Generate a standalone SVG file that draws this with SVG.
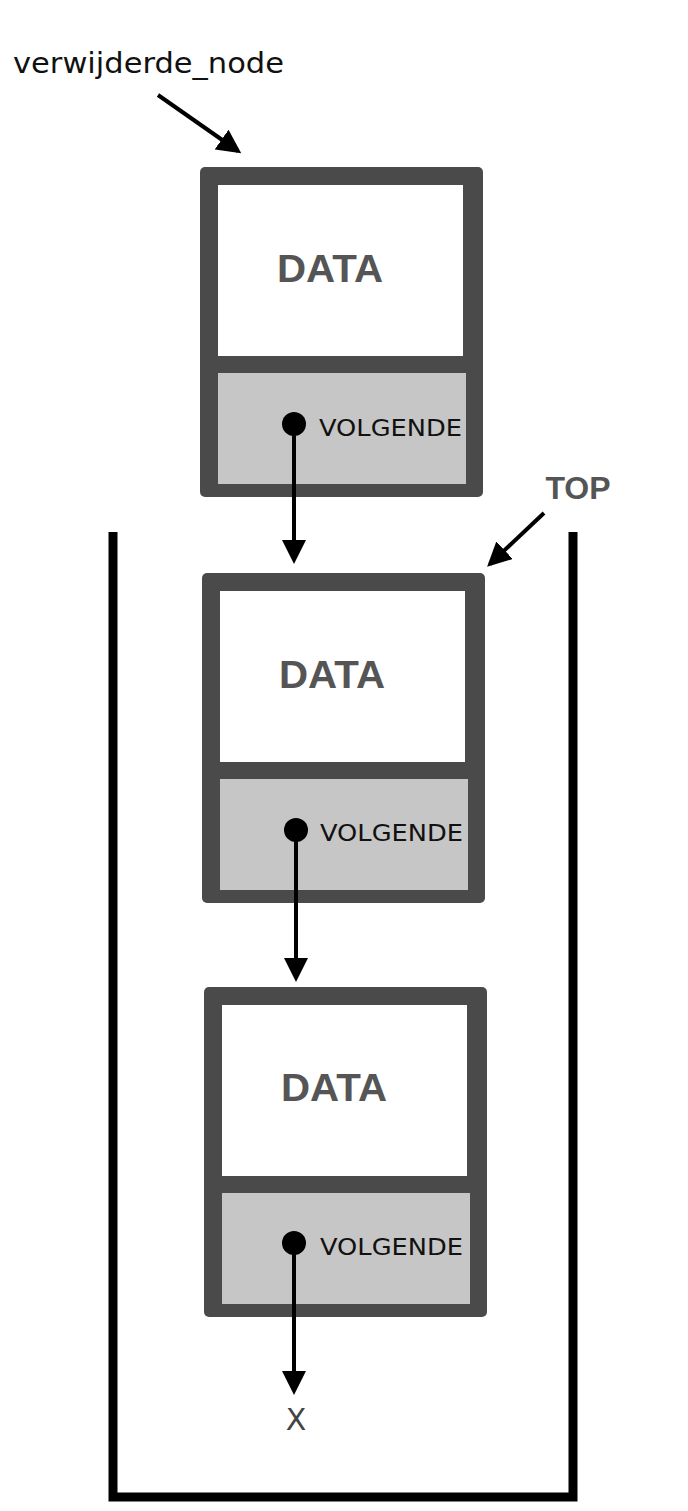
<svg xmlns="http://www.w3.org/2000/svg" width="688" height="1511" viewBox="0 0 688 1511">
<style>
.frame{fill:#4a4a4a}
.data{fill:#fff}
.next{fill:#c6c6c6}
.dt{font-family:"Liberation Sans",Arial,sans-serif;font-weight:bold;font-size:38px;fill:#555;text-anchor:middle}
.vt{font-family:"DejaVu Sans",sans-serif;font-size:23px;fill:#111}
.lbl{font-family:"DejaVu Sans",sans-serif;font-size:29px;fill:#111}
.ln{stroke:#000;stroke-width:4;fill:none}
</style>
<defs>
<marker id="ah" markerWidth="6" markerHeight="6" refX="5" refY="3" orient="auto" markerUnits="strokeWidth"><path d="M0,0 L6,3 L0,6 z" fill="#000"/></marker>
</defs>
<rect width="688" height="1511" fill="#fff"/>
<path id="stack" d="M113,532 V1497 H573 V532" fill="none" stroke="#000" stroke-width="9"/>
<g id="node1">
<rect class="frame" x="200" y="167" width="283" height="330" rx="5"/>
<rect class="data" x="218" y="185" width="245" height="171"/>
<rect class="next" x="218" y="373" width="248" height="111"/>
<text class="dt" x="330" y="282" textLength="106" lengthAdjust="spacingAndGlyphs">DATA</text>
<circle cx="294" cy="424" r="12" fill="#000"/>
<text class="vt" x="319" y="436" textLength="143" lengthAdjust="spacingAndGlyphs">VOLGENDE</text>
</g>
<g id="node2">
<rect class="frame" x="202" y="573" width="283" height="330" rx="5"/>
<rect class="data" x="220" y="591" width="245" height="171"/>
<rect class="next" x="220" y="779" width="248" height="111"/>
<text class="dt" x="332" y="688" textLength="106" lengthAdjust="spacingAndGlyphs">DATA</text>
<circle cx="296" cy="830" r="12" fill="#000"/>
<text class="vt" x="320" y="841" textLength="143" lengthAdjust="spacingAndGlyphs">VOLGENDE</text>
</g>
<g id="node3">
<rect class="frame" x="204" y="987" width="283" height="330" rx="5"/>
<rect class="data" x="222" y="1005" width="245" height="171"/>
<rect class="next" x="222" y="1193" width="248" height="111"/>
<text class="dt" x="334" y="1101" textLength="106" lengthAdjust="spacingAndGlyphs">DATA</text>
<circle cx="294" cy="1243" r="12" fill="#000"/>
<text class="vt" x="320" y="1255" textLength="143" lengthAdjust="spacingAndGlyphs">VOLGENDE</text>
</g>
<text id="lbl-del" class="lbl" x="13" y="73" textLength="271" lengthAdjust="spacingAndGlyphs">verwijderde_node</text>
<text id="lbl-top" x="578" y="499" font-family="Liberation Sans,Arial,sans-serif" font-weight="bold" font-size="32" fill="#555" text-anchor="middle">TOP</text>
<text id="lbl-x" x="296" y="1430" font-family="DejaVu Sans,sans-serif" font-size="30" fill="#444" text-anchor="middle">X</text>
<g id="connectors">
<line class="ln" x1="158" y1="95" x2="238" y2="151" marker-end="url(#ah)"/>
<line class="ln" x1="544" y1="513" x2="490" y2="564" marker-end="url(#ah)"/>
<line class="ln" x1="294" y1="428" x2="294" y2="560" marker-end="url(#ah)"/>
<line class="ln" x1="296" y1="834" x2="296" y2="978" marker-end="url(#ah)"/>
<line class="ln" x1="294" y1="1247" x2="294" y2="1391" marker-end="url(#ah)"/>
</g>
</svg>
